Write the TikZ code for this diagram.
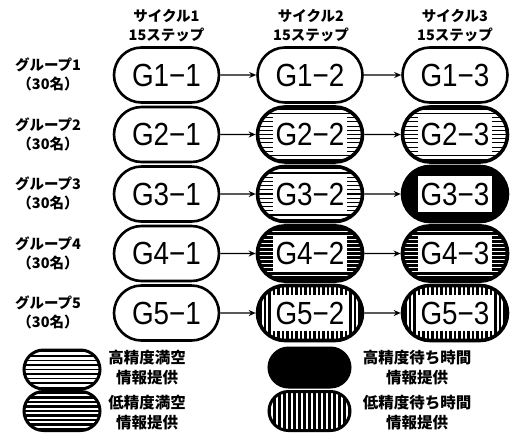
\documentclass[tikz,border=0pt]{standalone}
\usepackage{fontspec}
\setmainfont{Liberation Sans}
\newfontfamily\jp{Noto Sans CJK JP}
\usetikzlibrary{shapes.misc,arrows.meta}
\newcommand\myHatchH[2]{\foreach \k in {-9,...,9}{\draw[line width=#1] ([xshift=-70pt,yshift=\k*#2]path picture bounding box.center) -- ++(140pt,0);}}
\newcommand\myHatchV[2]{\foreach \k in {-16,...,16}{\draw[line width=#1] ([yshift=-35pt,xshift=\k*#2]path picture bounding box.center) -- ++(0,70pt);}}
\newcommand\myInner{\fill[white] ([xshift=-37pt,yshift=-18pt]path picture bounding box.center) rectangle ([xshift=37pt,yshift=18pt]path picture bounding box.center);}
\newcommand\gl[1]{\scalebox{0.87}[1]{#1}}
\begin{document}
\begin{tikzpicture}[x=1pt,y=-1pt,
  gbox/.style={rounded rectangle, draw, line width=2.6pt, minimum width=105pt, minimum height=55pt, inner sep=0pt, font=\fontsize{32}{32}\selectfont},
  hi/.style={gbox, line width=3.6pt, path picture={\myHatchH{1.1pt}{4.2pt}\myInner}},
  lo/.style={gbox, line width=3.8pt, path picture={\myHatchH{2.4pt}{4pt}\myInner}},
  bk/.style={gbox, line width=3.6pt, fill=black, path picture={\myInner}},
  vt/.style={gbox, line width=3.6pt, path picture={\myHatchV{2.2pt}{4.5pt}\myInner}},
  lgbox/.style={rounded rectangle, draw, line width=3pt, minimum width=76pt, minimum height=39pt, inner sep=0pt},
  hdr/.style={font=\jp\bfseries\fontsize{14.5}{14.5}\selectfont, inner sep=0pt},
  lgtxt/.style={font=\jp\bfseries\fontsize{15.5}{20}\selectfont, align=center, inner sep=0pt},
  arr/.style={line width=1.4pt, -{Stealth[length=7pt,width=6pt]}}
]
\useasboundingbox (0,0) rectangle (518,440);
% column headers
\node[hdr] (c1a) at (166.5,16) {サイクル1};
\node[hdr] (c1b) at (166.5,35) {15ステップ};
\node[hdr] (c2a) at (311,16) {サイクル2};
\node[hdr] (c2b) at (311,35) {15ステップ};
\node[hdr] (c3a) at (455,16) {サイクル3};
\node[hdr] (c3b) at (455,35) {15ステップ};
% group labels
\node[hdr] (r1a) at (48,65) {グループ1};
\node[hdr] (r1b) at (48,84) {（30名）};
\node[hdr] (r2a) at (48,124.5) {グループ2};
\node[hdr] (r2b) at (48,143.5) {（30名）};
\node[hdr] (r3a) at (48,184) {グループ3};
\node[hdr] (r3b) at (48,203) {（30名）};
\node[hdr] (r4a) at (48,243.5) {グループ4};
\node[hdr] (r4b) at (48,262.5) {（30名）};
\node[hdr] (r5a) at (48,303) {グループ5};
\node[hdr] (r5b) at (48,322) {（30名）};
% nodes
\node[gbox] (g11) at (166.5,75) {\gl{G1−1}};
\node[gbox] (g12) at (310,75) {\gl{G1−2}};
\node[gbox] (g13) at (455,75) {\gl{G1−3}};
\node[gbox] (g21) at (166.5,134.5) {\gl{G2−1}};
\node[hi] (g22) at (310,134.5) {\gl{G2−2}};
\node[hi] (g23) at (455,134.5) {\gl{G2−3}};
\node[gbox] (g31) at (166.5,194) {\gl{G3−1}};
\node[hi] (g32) at (310,194) {\gl{G3−2}};
\node[bk] (g33) at (455,194) {\gl{G3−3}};
\node[gbox] (g41) at (166.5,253.5) {\gl{G4−1}};
\node[lo] (g42) at (310,253.5) {\gl{G4−2}};
\node[lo] (g43) at (455,253.5) {\gl{G4−3}};
\node[gbox] (g51) at (166.5,313) {\gl{G5−1}};
\node[vt] (g52) at (310,313) {\gl{G5−2}};
\node[vt] (g53) at (455,313) {\gl{G5−3}};
% arrows
\foreach \r in {1,...,5}{
  \draw[arr] (g\r1) -- (g\r2);
  \draw[arr] (g\r2) -- (g\r3);
}
% legend
\node[lgbox, path picture={\myHatchH{1.1pt}{4.5pt}}] (l1) at (62,369.5) {};
\node[lgbox, path picture={\myHatchH{2.6pt}{4.5pt}}] (l2) at (62,411) {};
\node[lgbox, minimum width=81pt, fill=black] (l3) at (309.5,367.5) {};
\node[lgbox, minimum width=81pt, path picture={\myHatchV{2.6pt}{5pt}}] (l4) at (309.5,411) {};
\node[lgtxt] (t1) at (147,368) {高精度満空\\情報提供};
\node[lgtxt] (t2) at (147,413) {低精度満空\\情報提供};
\node[lgtxt] (t3) at (417,367.5) {高精度待ち時間\\情報提供};
\node[lgtxt] (t4) at (417,413) {低精度待ち時間\\情報提供};
\end{tikzpicture}
\end{document}
